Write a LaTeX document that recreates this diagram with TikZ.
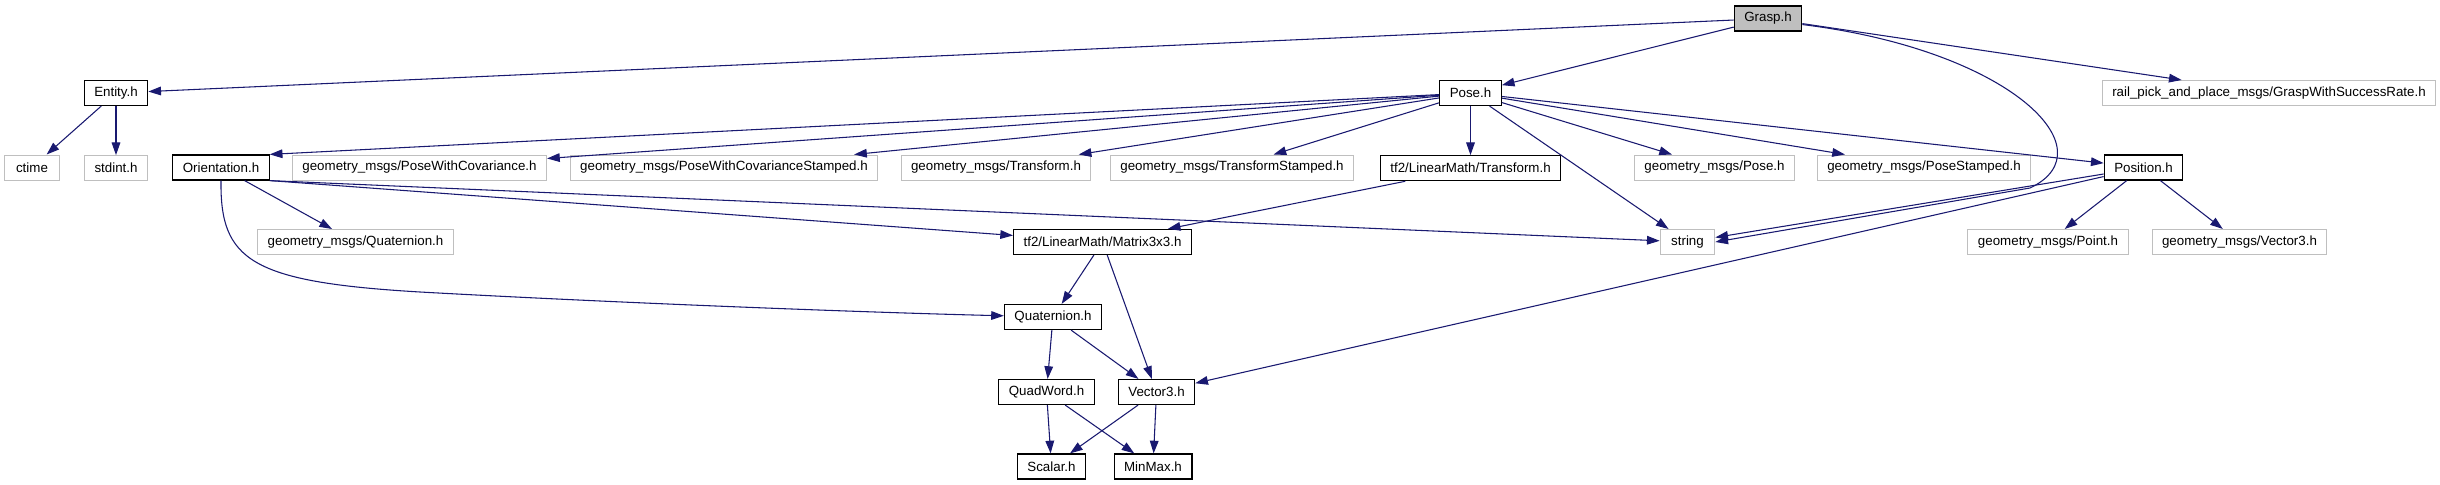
\documentclass[tikz,border=0pt]{standalone}
\usepackage{fontspec}
\setmainfont{Liberation Sans}
\usepackage{tikz}
\usetikzlibrary{arrows.meta, calc, positioning}
\definecolor{edgeblue}{HTML}{191970}
\definecolor{grey75}{HTML}{BFBFBF}
\tikzstyle{header} = [rectangle, draw=black, line width=0.9pt, fill=white, minimum width=41pt, minimum height=18.75pt, inner xsep=7.5pt, inner ysep=0pt, text centered]
\tikzstyle{sysheader} = [header, draw=grey75, line width=0.75pt]
\tikzstyle{current} = [header, fill=grey75]
\tikzstyle{arrow} = [line width=0.8pt, draw=edgeblue, ->, >={Triangle[length=9.5pt, width=6.5pt]}]

\begin{document}
\begin{tikzpicture}[x=0.75pt, y=-0.75pt, node distance=36.75pt]
	\useasboundingbox (0,0) rectangle (2440,485);
	\node (Grasp) [current] at (1768,18.5) {Grasp.h};
	\node (Entity) [header] at (116,93) {Entity.h};
	\node (Pose) [header] at (1470.5,93) {Pose.h};
	\node (Rail) [sysheader] at (2269,93) {rail\_pick\_and\_place\_msgs/GraspWithSuccessRate.h};
	\node (Ctime) [sysheader] at (32,167.5) {ctime};
	\node (Stdint) [sysheader, below = of Entity] {stdint.h};
	\node (Orientation) [header] at (221,167.5) {Orientation.h};
	\node (PoseCov) [sysheader] at (419.5,167.5) {geometry\_msgs/PoseWithCovariance.h};
	\node (PoseCovStamped) [sysheader] at (724,167.5) {geometry\_msgs/PoseWithCovarianceStamped.h};
	\node (GeoTransform) [sysheader] at (996,167.5) {geometry\_msgs/Transform.h};
	\node (GeoTransformStamped) [sysheader] at (1232,167.5) {geometry\_msgs/TransformStamped.h};
	\node (TfTransform) [header, below = of Pose] {tf2/LinearMath/Transform.h};
	\node (GeoPose) [sysheader] at (1714.5,167.5) {geometry\_msgs/Pose.h};
	\node (GeoPoseStamped) [sysheader] at (1924,167.5) {geometry\_msgs/PoseStamped.h};
	\node (Position) [header] at (2143.5,167.5) {Position.h};
	\node (GeoQuaternion) [sysheader] at (355.5,242) {geometry\_msgs/Quaternion.h};
	\node (Matrix) [header] at (1102.5,242) {tf2/LinearMath/Matrix3x3.h};
	\node (String) [sysheader] at (1687.5,242) {string};
	\node (GeoPoint) [sysheader] at (2048,242) {geometry\_msgs/Point.h};
	\node (GeoVector) [sysheader] at (2239.5,242) {geometry\_msgs/Vector3.h};
	\node (Quaternion) [header] at (1053,317) {Quaternion.h};
	\node (QuadWord) [header] at (1046.5,392) {QuadWord.h};
	\node (Vector) [header] at (1156.5,392) {Vector3.h};
	\node (Scalar) [header] at (1051.5,466.5) {Scalar.h};
	\node (MinMax) [header] at (1153,466.5) {MinMax.h};
	\draw [arrow] (Grasp) -- (Entity);
	\draw [arrow] (Grasp) -- (Pose);
	\draw [arrow] (Grasp) -- (Rail);
	\draw [arrow] (Grasp.-10) .. controls (2010,50) and (2110,150) .. (2030,188) -- (String.east);
	\draw [arrow] (Entity) -- (Ctime);
	\draw [arrow] (Entity) -- (Stdint);
	\draw [arrow] (Pose) -- (Orientation.north east);
	\draw [arrow] (Pose) -- (PoseCov);
	\draw [arrow] (Pose) -- (PoseCovStamped);
	\draw [arrow] (Pose) -- (GeoTransform);
	\draw [arrow] (Pose) -- (GeoTransformStamped);
	\draw [arrow] (Pose) -- (TfTransform);
	\draw [arrow] (Pose) -- (String);
	\draw [arrow] (Pose) -- (GeoPose);
	\draw [arrow] (Pose) -- (GeoPoseStamped);
	\draw [arrow] (Pose) -- (Position);
	\draw [arrow] (Orientation) -- (GeoQuaternion);
	\draw [arrow] (Orientation.south east) -- (Matrix);
	\draw [arrow] (Orientation.south east) -- (String);
	\draw [arrow] (Orientation.south) .. controls (220,260) and (250,282) .. (420,292) .. controls (600,302) and (850,312) .. (Quaternion);
	\draw [arrow] (TfTransform) -- (Matrix);
	\draw [arrow] (Position) -- (String);
	\draw [arrow] (Position) -- (Vector);
	\draw [arrow] (Position) -- (GeoPoint);
	\draw [arrow] (Position) -- (GeoVector);
	\draw [arrow] (Matrix) -- (Quaternion);
	\draw [arrow] (Matrix) -- (Vector);
	\draw [arrow] (Quaternion) -- (QuadWord);
	\draw [arrow] (Quaternion) -- (Vector);
	\draw [arrow] (QuadWord) -- (Scalar);
	\draw [arrow] (QuadWord) -- (MinMax);
	\draw [arrow] (Vector) -- (Scalar);
	\draw [arrow] (Vector) -- (MinMax);
\end{tikzpicture}
\end{document}
